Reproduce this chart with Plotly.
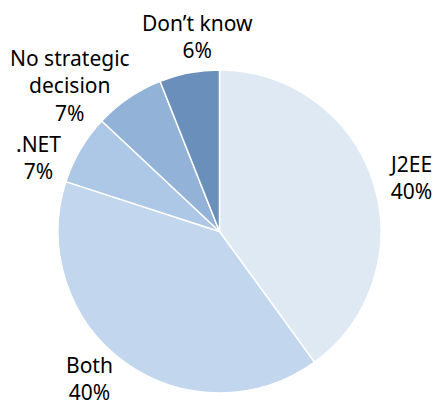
import math
import plotly.graph_objects as go

labels = ["J2EE", "Both", ".NET", "No strategic<br>decision", "Don’t know"]
values = [40, 40, 7, 7, 6]
colors = ["#dfe9f4", "#c2d7ee", "#adc7e6", "#93b2d8", "#6a8fbb"]

# label placement styling (angle nudge in degrees, distance from centre in px)
label_nudge_deg = [2.2, 5.5, -8.4, -11.4, 4.4]
label_dist_px = [198, 196, 195, 209, 196]

W, H = 437, 407
ML, MR, MT, MB = 58, 56, 70, 14
PW, PH = W - ML - MR, H - MT - MB
cx, cy = ML + PW / 2, MT + PH / 2

fig = go.Figure(go.Pie(
    labels=labels,
    values=values,
    sort=False,
    direction="clockwise",
    rotation=0,
    automargin=False,
    marker=dict(colors=colors, line=dict(color="white", width=1.5)),
    textinfo="none",
    hoverinfo="label+percent",
    showlegend=False,
))

total = sum(values)
cum = 0
annotations = []
for lab, v, nd, dist in zip(labels, values, label_nudge_deg, label_dist_px):
    mid = (cum + v / 2) / total * 360
    cum += v
    a = math.radians(mid + nd)
    px = cx + dist * math.sin(a)
    py = cy - dist * math.cos(a)
    pct = round(v / total * 100)
    annotations.append(dict(
        text=f"{lab}<br>{pct}%",
        x=(px - ML) / PW, y=1 - (py - MT) / PH,
        xref="paper", yref="paper",
        xanchor="center", yanchor="middle",
        showarrow=False, align="center",
        font=dict(family="Noto Sans", size=21, color="black"),
    ))

fig.update_layout(
    width=W, height=H,
    margin=dict(l=ML, r=MR, t=MT, b=MB, autoexpand=False),
    paper_bgcolor="white",
    plot_bgcolor="white",
    annotations=annotations,
)

fig.write_html("out.html")
